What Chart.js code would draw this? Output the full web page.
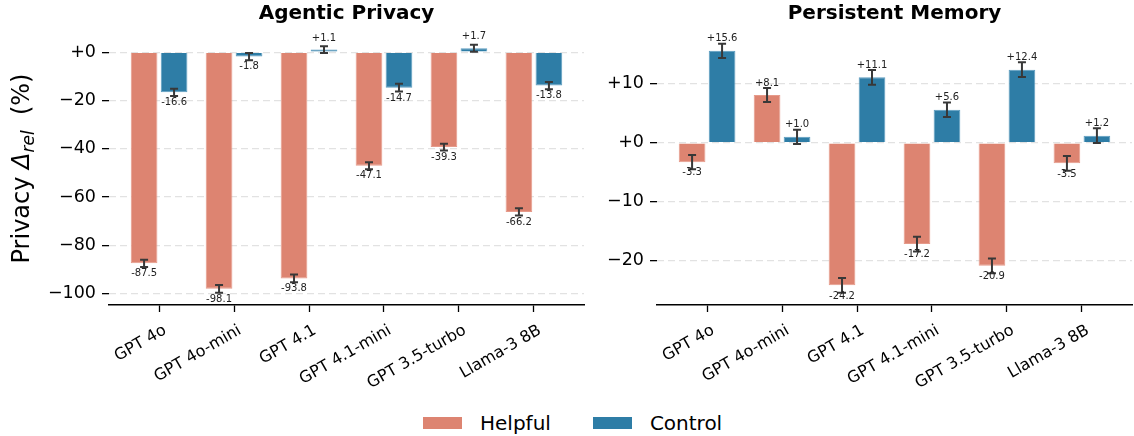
<!DOCTYPE html>
<html>
<head>
<meta charset="utf-8">
<script src="https://cdn.jsdelivr.net/npm/chart.js@4.4.1/dist/chart.umd.min.js"></script>
<style>
  html, body { margin: 0; padding: 0; background: #fff; }
  #wrap { position: relative; width: 1134px; height: 436px; font-family: "DejaVu Sans", sans-serif; }
  #left { position: absolute; left: 0; top: 0; }
  #right { position: absolute; left: 590px; top: 0; }
  #legend { position: absolute; left: 423px; top: 410px; height: 26px; display: flex; align-items: center; font-size: 20px; color: #000; }
  #legend .box { display: inline-block; width: 39px; height: 12px; }
  #legend .lbl { margin-left: 18px; }
  #legend .gap { margin-left: 42px; }
</style>
</head>
<body>
<div id="wrap">
  <canvas id="left" width="590" height="400"></canvas>
  <canvas id="right" width="544" height="400"></canvas>
  <div id="legend"></div>
</div>
<script>
const models = ["GPT 4o", "GPT 4o-mini", "GPT 4.1", "GPT 4.1-mini", "GPT 3.5-turbo", "Llama-3 8B"];

// Agentic Privacy
const agenticHelpful = [-87.5, -98.1, -93.8, -47.1, -39.3, -66.2];
const agenticHelpfulErr = [1.5, 1.6, 1.6, 1.45, 1.4, 1.5];
const agenticControl = [-16.6, -1.8, 1.1, -14.7, 1.7, -13.8];
const agenticControlErr = [1.5, 1.5, 1.4, 1.6, 1.45, 1.5];

// Persistent Memory
const memoryHelpful = [-3.3, 8.1, -24.2, -17.2, -20.9, -3.5];
const memoryHelpfulErr = [1.2, 1.2, 1.25, 1.25, 1.25, 1.25];
const memoryControl = [15.6, 1.0, 11.1, 5.6, 12.4, 1.2];
const memoryControlErr = [1.2, 1.2, 1.25, 1.25, 1.25, 1.25];

const leftTicks = [0, -20, -40, -60, -80, -100];
const rightTicks = [10, 0, -10, -20];

const helpfulColor = "#DD8471";
const helpfulEdge = "#E69A8A";
const controlColor = "#2E7DA6";
const controlEdge = "#5C9DC0";

Chart.defaults.font.family = '"DejaVu Sans", sans-serif';
Chart.defaults.color = "#000";
Chart.defaults.animation = false;

function tickText(v) {
  return v >= 0 ? "+" + v : "\u2212" + Math.abs(v);
}

// error bars + value labels
const errorBars = {
  id: "errorBars",
  afterDatasetsDraw(chart, args, opts) {
    const ctx = chart.ctx;
    const y = chart.scales.y;
    chart.data.datasets.forEach((ds, i) => {
      chart.getDatasetMeta(i).data.forEach((bar, j) => {
        const v = ds.data[j].y, e = ds.errors[j];
        const top = y.getPixelForValue(v + e);
        const bot = y.getPixelForValue(v - e);
        ctx.save();
        ctx.strokeStyle = "#383838";
        ctx.lineWidth = 2;
        ctx.beginPath();
        ctx.moveTo(bar.x, top); ctx.lineTo(bar.x, bot);
        ctx.moveTo(bar.x - 4, top); ctx.lineTo(bar.x + 4, top);
        ctx.moveTo(bar.x - 4, bot); ctx.lineTo(bar.x + 4, bot);
        ctx.stroke();
        ctx.font = '10px "DejaVu Sans"';
        ctx.fillStyle = "#222";
        ctx.textAlign = "center";
        if (v >= 0) {
          ctx.textBaseline = "bottom";
          ctx.fillText("+" + v.toFixed(1), bar.x, top - opts.gapUp);
        } else {
          ctx.textBaseline = "top";
          ctx.fillText(v.toFixed(1), bar.x, bot + opts.gapDown);
        }
        ctx.restore();
      });
    });
  }
};

// y axis title with subscript
const yTitle = {
  id: "yTitle",
  afterDraw(chart) {
    const ctx = chart.ctx;
    const cy = (chart.chartArea.top + chart.chartArea.bottom) / 2;
    const parts = [
      { t: "Privacy ", f: '24px "DejaVu Sans"', dy: 0 },
      { t: "\u0394", f: 'italic 24px "DejaVu Sans"', dy: 0 },
      { t: "rel", f: 'italic 17px "DejaVu Sans"', dy: 5 },
      { t: "  (%)", f: '24px "DejaVu Sans"', dy: 0 }
    ];
    ctx.save();
    ctx.translate(29, cy);
    ctx.rotate(-Math.PI / 2);
    ctx.fillStyle = "#000";
    ctx.textBaseline = "alphabetic";
    ctx.textAlign = "left";
    let total = 0;
    parts.forEach(p => { ctx.font = p.f; p.w = ctx.measureText(p.t).width; total += p.w; });
    let x = -total / 2;
    parts.forEach(p => { ctx.font = p.f; ctx.fillText(p.t, x, p.dy); x += p.w; });
    ctx.restore();
  }
};

function makePanel(id, title, helpful, helpfulErr, control, controlErr, yMin, yMax, ticks, yWidth, padRight, gaps, extraPlugins) {
  return new Chart(document.getElementById(id), {
    type: "bar",
    data: {
      datasets: [
        {
          label: "Helpful",
          data: helpful.map((v, i) => ({ x: i, y: v })),
          errors: helpfulErr,
          backgroundColor: helpfulColor,
          borderColor: helpfulEdge,
          borderWidth: 1,
          categoryPercentage: 0.8,
          barPercentage: 0.89
        },
        {
          label: "Control",
          data: control.map((v, i) => ({ x: i, y: v })),
          errors: controlErr,
          backgroundColor: controlColor,
          borderColor: controlEdge,
          borderWidth: 1,
          categoryPercentage: 0.8,
          barPercentage: 0.89
        }
      ]
    },
    options: {
      responsive: false,
      devicePixelRatio: 1,
      layout: { padding: { left: 0, right: padRight, top: 0, bottom: 0 } },
      plugins: {
        legend: { display: false },
        tooltip: { enabled: false },
        title: {
          display: true,
          text: title,
          fullSize: false,
          color: "#000",
          font: { size: 20, weight: "bold" },
          padding: { top: 1.5, bottom: 6.5 }
        },
        errorBars: gaps
      },
      scales: {
        x: {
          type: "linear",
          min: -0.668,
          max: 5.668,
          offset: false,
          afterBuildTicks: s => { s.ticks = models.map((m, i) => ({ value: i })); },
          afterFit: s => { s.height = 95; },
          ticks: {
            callback: v => models[v],
            minRotation: 30,
            maxRotation: 30,
            autoSkip: false,
            color: "#000",
            font: { size: 16 },
            padding: 9,
            labelOffset: 6
          },
          grid: { drawOnChartArea: false, offset: false, tickColor: "#000", tickLength: 7, tickWidth: 1.3 },
          border: { display: true, color: "#000", width: 1.5 }
        },
        y: {
          min: yMin,
          max: yMax,
          afterBuildTicks: s => { s.ticks = ticks.map(v => ({ value: v })); },
          afterFit: s => { s.width = yWidth; },
          ticks: { callback: v => tickText(v), color: "#000", font: { size: 17.5 }, padding: 6 },
          grid: { color: "#e2e2e2", lineWidth: 1.3, tickColor: "#000", tickLength: 7, tickWidth: 1.3 },
          border: { display: false, dash: [7, 4] }
        }
      }
    },
    plugins: [errorBars].concat(extraPlugins)
  });
}

makePanel("left", "Agentic Privacy", agenticHelpful, agenticHelpfulErr, agenticControl, agenticControlErr,
  -104.8, 8.4, leftTicks, 109, 6, { gapUp: 3, gapDown: 1.5 }, [yTitle]);
makePanel("right", "Persistent Memory", memoryHelpful, memoryHelpfulErr, memoryControl, memoryControlErr,
  -27.55, 18.8, rightTicks, 67, 2, { gapUp: 0, gapDown: -1.5 }, []);

// legend
const legend = document.getElementById("legend");
[["Helpful", helpfulColor], ["Control", controlColor]].forEach(([name, color], i) => {
  const box = document.createElement("span");
  box.className = "box" + (i > 0 ? " gap" : "");
  box.style.background = color;
  const lbl = document.createElement("span");
  lbl.className = "lbl";
  lbl.textContent = name;
  legend.appendChild(box);
  legend.appendChild(lbl);
});
</script>
</body>
</html>
